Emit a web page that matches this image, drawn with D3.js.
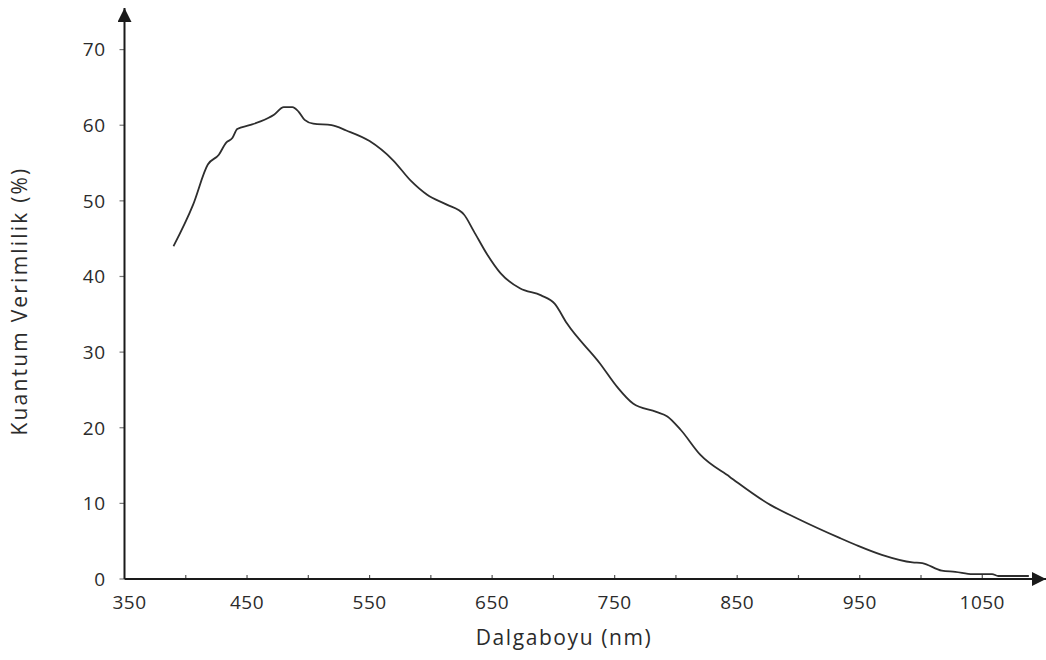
<!DOCTYPE html>
<html>
<head>
<meta charset="utf-8">
<script src="https://cdn.jsdelivr.net/npm/d3@7"></script>
<style>
  html, body { margin: 0; padding: 0; background: #fff; }
  svg text { font-family: "Open Sans", "DejaVu Sans", sans-serif; fill: #2b2b2b; }
</style>
</head>
<body>
<svg id="chart" width="1046" height="660"></svg>
<script>
// Wavelength (nm) and quantum efficiency (%)
const wavelengths = [390, 406, 418, 427, 433, 438, 442, 452, 461, 472, 480, 487, 492, 497, 504, 519,
    531, 550, 569, 584, 597, 613, 627, 635, 646, 657, 673, 690, 701, 711, 738, 752, 765, 784, 793,
    804, 820, 844, 877, 899, 934, 947, 968, 993, 1001, 1017, 1028, 1042, 1058, 1063, 1088];
const efficiency = [44.0, 49.5, 54.8, 56.1, 57.7, 58.3, 59.5, 60.0, 60.5, 61.4, 62.4, 62.4, 61.8, 60.7, 60.2, 60.0,
    59.3, 57.9, 55.4, 52.6, 50.8, 49.5, 48.2, 46.0, 42.9, 40.4, 38.4, 37.5, 36.4, 33.8, 28.5, 25.4, 23.2, 22.1, 21.5,
    19.7, 16.4, 13.5, 9.8, 8.0, 5.4, 4.5, 3.2, 2.2, 2.1, 1.1, 0.95, 0.65, 0.65, 0.4, 0.4];

const xTicks = [350, 450, 550, 650, 750, 850, 950, 1050];
const xMinorTicks = [400, 500, 600, 700, 800, 900, 1000];
const yTicks = [0, 10, 20, 30, 40, 50, 60, 70];

const svg = d3.select("#chart");

const x = d3.scaleLinear().domain([350, 1102]).range([124.5, 1046]);
const y = d3.scaleLinear().domain([0, 75.5]).range([579, 8]);

const axisColor = "#1a1a1a";

const g = svg.append("g");

g.append("defs").append("marker")
    .attr("id", "arrow")
    .attr("viewBox", "0 0 10 10")
    .attr("refX", 10)
    .attr("refY", 5)
    .attr("markerWidth", 7)
    .attr("markerHeight", 7)
    .attr("markerUnits", "strokeWidth")
    .attr("orient", "auto")
    .append("path")
    .attr("d", "M0,0 L10,5 L0,10 z")
    .attr("fill", axisColor);

// y ticks
g.selectAll(".ytick")
    .data(yTicks)
    .enter()
    .append("line")
    .attr("x1", x(350) - 5)
    .attr("x2", x(350))
    .attr("y1", d => y(d))
    .attr("y2", d => y(d))
    .attr("stroke", "#777")
    .attr("stroke-width", 1.2);

g.selectAll(".ylabel")
    .data(yTicks)
    .enter()
    .append("text")
    .attr("x", x(350) - 19)
    .attr("y", d => y(d))
    .attr("dy", "0.36em")
    .attr("text-anchor", "end")
    .style("font-size", "19px")
    .style("letter-spacing", "0.5px")
    .text(d => d);

// x ticks (small marks above the axis)
g.selectAll(".xtick")
    .data(xTicks.concat(xMinorTicks).filter(d => d > 350))
    .enter()
    .append("line")
    .attr("x1", d => x(d))
    .attr("x2", d => x(d))
    .attr("y1", y(0) - 4)
    .attr("y2", y(0))
    .attr("stroke", "#555")
    .attr("stroke-width", 1.2);

g.selectAll(".xlabel")
    .data(xTicks)
    .enter()
    .append("text")
    .attr("x", d => x(d) + (d === 350 ? 5 : 0))
    .attr("y", y(0) + 30)
    .attr("text-anchor", "middle")
    .style("font-size", "19px")
    .style("letter-spacing", "0.5px")
    .text(d => d);

// axes lines
g.append("line")
    .attr("x1", x(350))
    .attr("x2", x(350))
    .attr("y1", y(0))
    .attr("y2", y(75.5))
    .attr("stroke", axisColor)
    .attr("stroke-width", 2)
    .attr("marker-end", "url(#arrow)");

g.append("line")
    .attr("x1", x(350))
    .attr("x2", x(1102))
    .attr("y1", y(0))
    .attr("y2", y(0))
    .attr("stroke", axisColor)
    .attr("stroke-width", 2)
    .attr("marker-end", "url(#arrow)");

// the curve
const line = d3.line()
    .x(d => x(d[0]))
    .y(d => y(d[1]))
    .curve(d3.curveMonotoneX);

g.append("path")
    .datum(wavelengths.map((w, i) => [w, efficiency[i]]))
    .attr("fill", "none")
    .attr("stroke", "#2e2e2e")
    .attr("stroke-width", 1.8)
    .attr("d", line);

// axis titles
svg.append("text")
    .attr("x", 564)
    .attr("y", 645)
    .attr("text-anchor", "middle")
    .style("font-size", "21px")
    .style("letter-spacing", "1.6px")
    .text("Dalgaboyu (nm)");

svg.append("text")
    .attr("transform", "translate(27,301) rotate(-90)")
    .attr("text-anchor", "middle")
    .style("font-size", "21px")
    .style("letter-spacing", "2.2px")
    .text("Kuantum Verimlilik (%)");
</script>
</body>
</html>
